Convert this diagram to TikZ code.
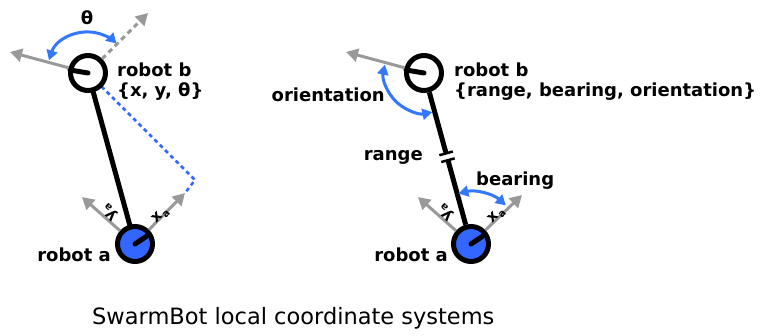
\documentclass[tikz,border=0pt]{standalone}
\usepackage{fontspec}
\setmainfont{DejaVu Sans}
\usetikzlibrary{arrows.meta,calc}
\definecolor{axisgray}{HTML}{999999}
\definecolor{anglblue}{HTML}{3377FF}
\definecolor{robotblue}{HTML}{3366FF}
\newcommand{\axname}[1]{#1\raisebox{-3pt}{\fontsize{10}{10}\selectfont a}}
\tikzset{
  robot/.style={circle,draw=black,line width=5pt,minimum size=35pt,inner sep=0pt},
  robota/.style={robot,fill=robotblue},
  robotb/.style={robot,fill=white},
  link/.style={line width=5pt,black},
  handle/.style={line width=5pt,black,line cap=round},
  grayarrow/.style={axisgray,line width=3pt,-{Triangle[length=12pt,width=13pt]}},
  anglearc/.style={anglblue,line width=3pt,{Triangle[length=10pt,width=11pt]}-{Triangle[length=10pt,width=11pt]}},
  projline/.style={robotblue,line width=2.5pt,dash pattern=on 4pt off 3.5pt},
  lbl/.style={font=\bfseries\fontsize{18}{20}\selectfont,inner sep=0pt},
  axlbl/.style={font=\bfseries\fontsize{15}{16}\selectfont,inner sep=0pt},
  caption/.style={font=\fontsize{22.5}{24}\selectfont,inner sep=0pt},
}
\begin{document}
\begin{tikzpicture}[x=1pt,y=1pt]
\useasboundingbox (0,0) rectangle (761,335);

% ---------- global frame {x, y, theta} ----------
\coordinate (oriL) at (10,283);
\coordinate (xbL) at (148,322);
\coordinate (yaL) at (82,138);
\coordinate (xaL) at (185,142);
\coordinate (cornerL) at (195,155);

\draw[projline] (88,262) ++(-45:19) coordinate (pstart) -- (cornerL) -- (xaL);

\draw[link] (88,262) -- (135,91);
\node[robotb] (bL) at (88,262) {};
\node[robota] (aL) at (135,91) {};
\draw[handle] (bL.center) -- (70,265);
\draw[handle] (aL.center) -- (147,99);

\draw[grayarrow] (bL) -- (oriL);
\draw[grayarrow,dash pattern=on 5pt off 4pt] (bL) -- (xbL);
\draw[grayarrow] (aL) -- (yaL);
\draw[grayarrow] (aL) -- (xaL);

\draw[anglearc] ([shift={(162:41pt)}]bL.center) arc[start angle=162,end angle=46,radius=41pt];
\node[lbl] (thetaL) at (87,317) {θ};

\node[lbl,align=left,anchor=west] (bLtxt) at (117,253) {robot b\\\{x, y, θ\}};
\node[lbl,anchor=east] (aLtxt) at (111,80) {robot a};
\node[axlbl,rotate=135] (yaLtxt) at (110,123) {\axname{y}};
\node[axlbl,rotate=45] (xaLtxt) at (161,119) {\axname{x}};

% ---------- relative frame {range, bearing, orientation} ----------
\coordinate (oriR) at (346,283);
\coordinate (yaR) at (418,138);
\coordinate (xaR) at (522,140);

\node[robotb] (bR) at (424,262) {};
\node[robota] (aR) at (471,91) {};
\coordinate (g1) at ($(bR.center)!0.47!(aR.center)$);
\coordinate (g2) at ($(bR.center)!0.51!(aR.center)$);
\draw[link] (bR) -- (g1);
\draw[link] (g2) -- (aR);
\draw[line width=2.5pt] ($(g1)!7pt!90:(bR.center)$) -- ($(g1)!7pt!-90:(bR.center)$);
\draw[line width=2.5pt] ($(g2)!7pt!90:(aR.center)$) -- ($(g2)!7pt!-90:(aR.center)$);
\draw[handle] (bR.center) -- (406,265);
\draw[handle] (aR.center) -- (483,99);

\draw[grayarrow] (bR) -- (oriR);
\draw[grayarrow] (aR) -- (yaR);
\draw[grayarrow] (aR) -- (xaR);

\draw[anglearc] ([shift={(168:40pt)}]bR.center) arc[start angle=168,end angle=282,radius=40pt];
\draw[anglearc] ([shift={(104:52pt)}]aR.center) arc[start angle=104,end angle=48,radius=52pt];

\node[lbl,anchor=east] (orientTxt) at (385,240) {orientation};
\node[lbl,anchor=east] (rangeTxt) at (423,178) {range};
\node[lbl,anchor=west] (bearTxt) at (476,154) {bearing};
\node[lbl,align=left,anchor=west] (bRtxt) at (454,253) {robot b\\\{range, bearing, orientation\}};
\node[lbl,anchor=east] (aRtxt) at (448,80) {robot a};
\node[axlbl,rotate=135] (yaRtxt) at (446,123) {\axname{y}};
\node[axlbl,rotate=45] (xaRtxt) at (497,119) {\axname{x}};

\node[caption,anchor=west] (capt) at (92,17) {SwarmBot local coordinate systems};
\end{tikzpicture}
\end{document}
